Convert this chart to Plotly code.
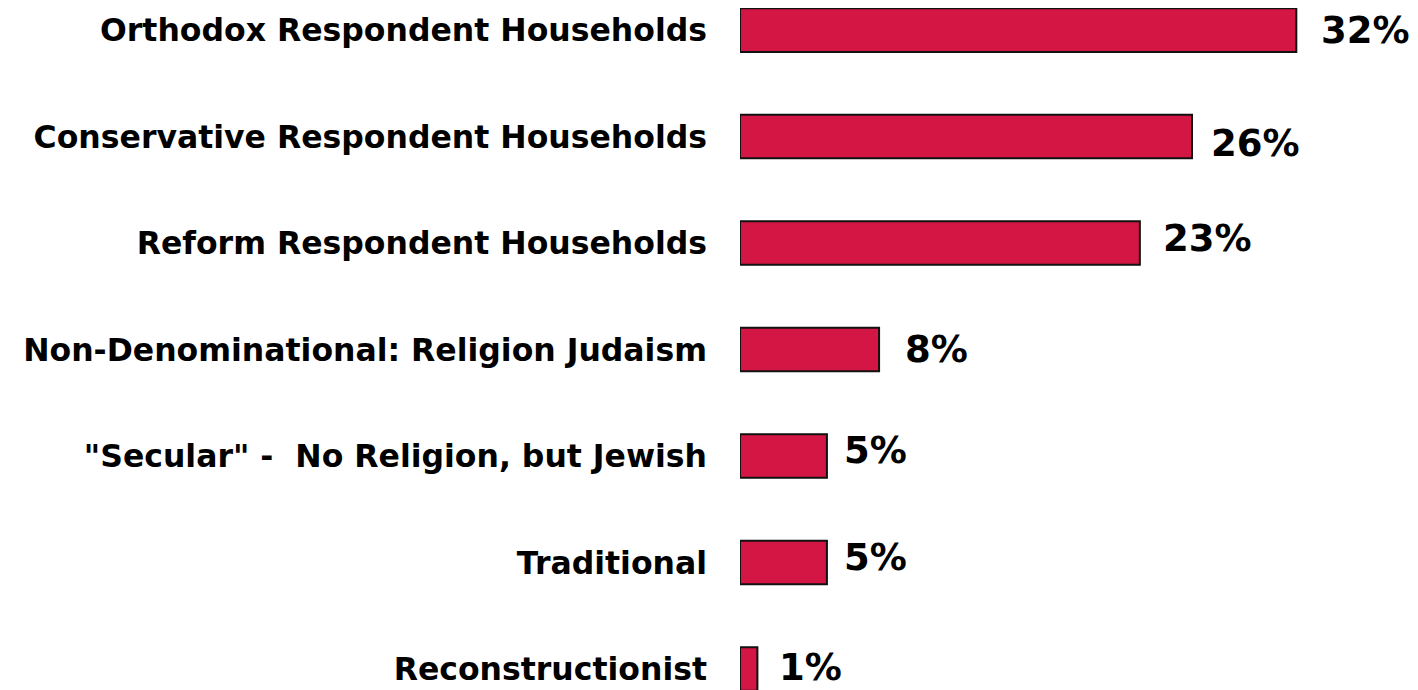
import plotly.graph_objects as go

# categories listed bottom to top
categories = [
    "Reconstructionist",
    "Traditional",
    "\"Secular\" -  No Religion, but Jewish",
    "Non-Denominational: Religion Judaism",
    "Reform Respondent Households",
    "Conservative Respondent Households",
    "Orthodox Respondent Households",
]
values = [1, 5, 5, 8, 23, 26, 32]
value_labels = ["1%", "5%", "5%", "8%", "23%", "26%", "32%"]

# label nudges (px) to mimic the original placement
label_dx = [20, 15, 15, 24, 21, 17, 23]
label_dy = [2, 5, 6, 0, 5, -7, 0]

font_family = "DejaVu Sans, Verdana, sans-serif"

fig = go.Figure()
fig.add_trace(
    go.Bar(
        x=values,
        y=list(range(len(categories))),
        orientation="h",
        width=0.41,
        marker=dict(color="#D41645", line=dict(color="#111111", width=2)),
        hoverinfo="skip",
    )
)

for i, (v, lab) in enumerate(zip(values, value_labels)):
    fig.add_annotation(
        x=v, y=i, text=lab, showarrow=False,
        xanchor="left", yanchor="middle",
        xshift=label_dx[i], yshift=label_dy[i],
        font=dict(family=font_family, size=37, color="black", weight="bold"),
    )

# page body has an 8px margin, so the figure is sized to fit the window
fig.update_layout(
    width=1410,
    height=682,
    margin=dict(l=732, r=0, t=0, b=0),
    plot_bgcolor="white",
    paper_bgcolor="white",
    showlegend=False,
    xaxis=dict(range=[0, 39.0], visible=False),
    yaxis=dict(
        range=[-0.197, 6.207],
        tickmode="array",
        tickvals=list(range(len(categories))),
        ticktext=categories,
        ticks="",
        ticklabelstandoff=32,
        showgrid=False,
        zeroline=False,
        showline=False,
        tickfont=dict(family=font_family, size=31.5, color="black", weight="bold"),
    ),
)

fig.write_html("out.html")
